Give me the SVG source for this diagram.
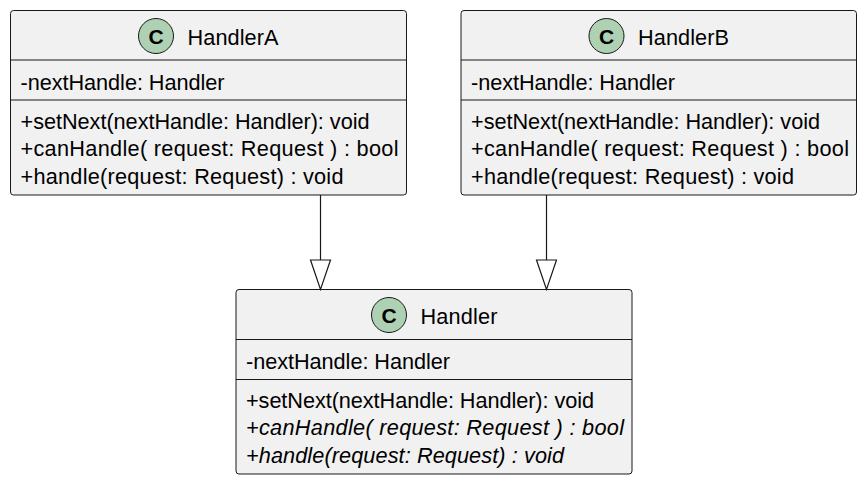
<svg xmlns="http://www.w3.org/2000/svg" width="865" height="483" viewBox="0 0 865 483">
<style>
.box{fill:#F1F1F1;stroke:#181818;stroke-width:1}
.sep{stroke:#181818;stroke-width:1}
.ic{fill:#ADD1B2;stroke:#181818;stroke-width:1}
.icl{font-family:"Liberation Sans",Arial,sans-serif;font-weight:bold;font-size:21px;fill:#000;text-anchor:middle}
.t{font-family:"Liberation Sans",Arial,sans-serif;font-size:21.7px;fill:#000}
.it{font-style:italic}
.edge{stroke:#181818;stroke-width:1.2;fill:none}
.head{fill:#FFFFFF;stroke:#181818;stroke-width:1.2}
</style>
<rect width="865" height="483" fill="#FFFFFF"/>
<g id="HandlerA">
<rect class="box" x="10.5" y="10.5" width="396" height="184.5" rx="3"/>
<ellipse class="ic" cx="156" cy="36" rx="17.5" ry="17.5"/>
<text class="icl" x="156" y="43.5">C</text>
<text class="t" x="187.5" y="45" textLength="91" lengthAdjust="spacing">HandlerA</text>
<line class="sep" x1="10.5" y1="60" x2="406.5" y2="60"/>
<text class="t" x="20.5" y="90" textLength="204" lengthAdjust="spacing">-nextHandle: Handler</text>
<line class="sep" x1="10.5" y1="100" x2="406.5" y2="100"/>
<text class="t" x="20.5" y="128.5" textLength="349" lengthAdjust="spacing">+setNext(nextHandle: Handler): void</text>
<text class="t" x="20.5" y="156" textLength="378" lengthAdjust="spacing">+canHandle( request: Request ) : bool</text>
<text class="t" x="20.5" y="183.5" textLength="323" lengthAdjust="spacing">+handle(request: Request) : void</text>
</g>
<g id="HandlerB">
<rect class="box" x="461" y="10.5" width="395.5" height="184.5" rx="3"/>
<ellipse class="ic" cx="606.5" cy="36" rx="17.5" ry="17.5"/>
<text class="icl" x="606.5" y="43.5">C</text>
<text class="t" x="638" y="45" textLength="91" lengthAdjust="spacing">HandlerB</text>
<line class="sep" x1="461" y1="60" x2="856.5" y2="60"/>
<text class="t" x="471" y="90" textLength="204" lengthAdjust="spacing">-nextHandle: Handler</text>
<line class="sep" x1="461" y1="100" x2="856.5" y2="100"/>
<text class="t" x="471" y="128.5" textLength="349" lengthAdjust="spacing">+setNext(nextHandle: Handler): void</text>
<text class="t" x="471" y="156" textLength="378" lengthAdjust="spacing">+canHandle( request: Request ) : bool</text>
<text class="t" x="471" y="183.5" textLength="323" lengthAdjust="spacing">+handle(request: Request) : void</text>
</g>
<g id="Handler">
<rect class="box" x="236" y="289.5" width="396" height="184.5" rx="3"/>
<ellipse class="ic" cx="389" cy="315" rx="17.5" ry="17.5"/>
<text class="icl" x="389" y="322.5">C</text>
<text class="t" x="420.5" y="324" textLength="77" lengthAdjust="spacing">Handler</text>
<line class="sep" x1="236" y1="339.5" x2="632" y2="339.5"/>
<text class="t" x="246" y="369" textLength="204" lengthAdjust="spacing">-nextHandle: Handler</text>
<line class="sep" x1="236" y1="379.5" x2="632" y2="379.5"/>
<text class="t" x="246" y="407.5" textLength="348" lengthAdjust="spacing">+setNext(nextHandle: Handler): void</text>
<text class="t it" x="246" y="435" textLength="378" lengthAdjust="spacing">+canHandle( request: Request ) : bool</text>
<text class="t it" x="246" y="462.5" textLength="318" lengthAdjust="spacing">+handle(request: Request) : void</text>
</g>
<g id="connectors">
<line class="edge" x1="320.5" y1="195" x2="320.5" y2="260"/>
<polygon class="head" points="310.5,260 330.5,260 320.5,289.5"/>
<line class="edge" x1="546.5" y1="195" x2="546.5" y2="260"/>
<polygon class="head" points="536.5,260 556.5,260 546.5,289.5"/>
</g>
</svg>
